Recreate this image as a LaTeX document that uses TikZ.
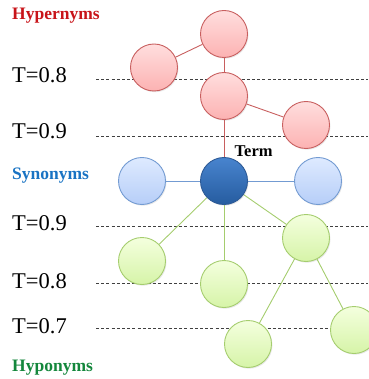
\documentclass[tikz,border=0pt]{standalone}
\usepackage{fontspec}
\setmainfont{Liberation Serif}
\usetikzlibrary{backgrounds,shadows}

\definecolor{hyperfillA}{RGB}{255,222,222}
\definecolor{hyperfillB}{RGB}{252,178,178}
\definecolor{hyperline}{RGB}{200,95,95}
\definecolor{synfillA}{RGB}{222,234,255}
\definecolor{synfillB}{RGB}{182,206,248}
\definecolor{synline}{RGB}{115,155,210}
\definecolor{termA}{RGB}{72,132,206}
\definecolor{termB}{RGB}{38,92,160}
\definecolor{termline}{RGB}{45,90,150}
\definecolor{hypofillA}{RGB}{244,255,222}
\definecolor{hypofillB}{RGB}{214,244,168}
\definecolor{hypoline}{RGB}{165,205,110}
\definecolor{redlabel}{RGB}{200,20,25}
\definecolor{bluelabel}{RGB}{25,115,195}
\definecolor{greenlabel}{RGB}{20,135,60}

\tikzset{
  ball/.style={circle, minimum size=47pt, inner sep=0pt, line width=0.9pt,
    drop shadow={opacity=0.18, shadow xshift=1pt, shadow yshift=-1.2pt}},
  hyper/.style={ball, draw=hyperline, top color=hyperfillA, bottom color=hyperfillB},
  syn/.style={ball, draw=synline, top color=synfillA, bottom color=synfillB},
  termball/.style={ball, draw=termline, top color=termA, bottom color=termB},
  hypo/.style={ball, draw=hypoline, top color=hypofillA, bottom color=hypofillB},
  hyperedge/.style={draw=hyperline, line width=0.9pt},
  synedge/.style={draw=synline, line width=0.9pt},
  hypoedge/.style={draw=hypoline, line width=0.9pt},
  level/.style={draw=black!75, line width=0.8pt, dash pattern=on 3pt off 2.2pt},
  thr/.style={anchor=base west, inner sep=0pt, font=\fontsize{22.5}{24}\selectfont},
  group/.style={anchor=base west, inner sep=0pt, font=\fontsize{17.5}{19}\selectfont\bfseries},
}

\begin{document}
\begin{tikzpicture}[x=1pt, y=-1pt]
\path[use as bounding box] (0,0) rectangle (368,379);

% threshold labels and group labels
\node[group, text=redlabel] (lhyper) at (12,20) {Hypernyms};
\node[thr] (t08a) at (12,83) {T=0.8};
\node[thr] (t09a) at (12,139) {T=0.9};
\node[group, text=bluelabel] (lsyn) at (12,179) {Synonyms};
\node[thr] (t09b) at (12,230) {T=0.9};
\node[thr] (t08b) at (12,288) {T=0.8};
\node[thr] (t07b) at (12,333) {T=0.7};
\node[group, text=greenlabel] (lhypo) at (12,371) {Hyponyms};

% hypernyms
\node[hyper] (p1) at (224,34) {};
\node[hyper] (p2) at (154,67.5) {};
\node[hyper] (p3) at (224,96) {};
\node[hyper] (p4) at (306,125) {};

% synonyms and the term
\node[syn] (s1) at (142,181) {};
\node[termball] (term) at (224,181) {};
\node[syn] (s2) at (318,181) {};
\node[anchor=base west, inner sep=0pt, font=\fontsize{16.5}{18}\selectfont\bfseries] (lterm) at (234.5,157) {Term};

% hyponyms
\node[hypo] (h1) at (142,261) {};
\node[hypo] (h2) at (224,284) {};
\node[hypo] (h3) at (306,238) {};
\node[hypo] (h4) at (248,344) {};
\node[hypo] (h5) at (354,330) {};

\begin{scope}[on background layer]
  % threshold levels
  \draw[level] (96,79) -- (368,79);
  \draw[level] (96,136) -- (368,136);
  \draw[level] (96,226) -- (368,226);
  \draw[level] (96,283) -- (368,283);
  \draw[level] (96,328) -- (368,328);
  % hypernym links
  \path[hyperedge] (p1) -- (p2);
  \path[hyperedge] (p1) -- (p3);
  \path[hyperedge] (p3) -- (p4);
  \path[hyperedge] (p3) -- (term);
  % synonym links
  \path[synedge] (s1) -- (term);
  \path[synedge] (term) -- (s2);
  % hyponym links
  \path[hypoedge] (term) -- (h1);
  \path[hypoedge] (term) -- (h2);
  \path[hypoedge] (term) -- (h3);
  \path[hypoedge] (h3) -- (h4);
  \path[hypoedge] (h3) -- (h5);
\end{scope}
\end{tikzpicture}
\end{document}
